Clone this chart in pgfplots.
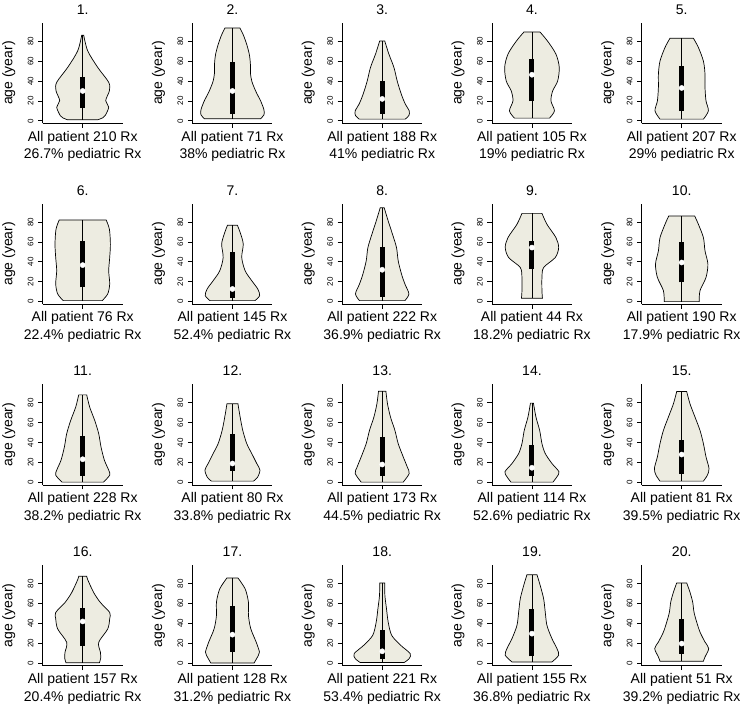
\documentclass[border=0pt]{standalone}
\usepackage{pgfplots}
\pgfplotsset{compat=1.18}
\usepackage{pgfplotstable}
\usepgfplotslibrary{fillbetween}
\usetikzlibrary{calc}
\usepackage{fontspec}
\setmainfont{Liberation Sans}
\definecolor{vfill}{RGB}{237,236,225}
\newcommand{\lab}{\fontsize{14}{16}\selectfont}

% half-width profiles (y = age, w = half width in px)
\pgfplotstableread{
y w
1 15
3 20
5.3 22.5
13.7 26
20.3 23
30.3 26.7
38.7 26
53.7 15
70.3 5
86 1
}\tA
\pgfplotstableread{
y w
2 28
6 31.5
11 31.5
19.3 28.5
29.3 23.5
39.3 19.5
47.7 18
56 18
66 17
76 14.5
86 11
93.3 7.5
}\tB
\pgfplotstableread{
y w
1.7 23
5.3 26.7
10 27
17 23
27 19
40 15
53.7 11.7
67 6.7
80.3 2.5
}\tC
\pgfplotstableread{
y w
2.7 17.5
10 22.5
20 19
30 20.7
40 25.7
53.7 27.3
67 24
80 15.7
89.3 8
}\tD
\pgfplotstableread{
y w
1.7 21.7
10 26.7
20 24.3
33.7 23.3
47 23.3
60 21.7
73.7 16.7
83 11.7
}\tE
\pgfplotstableread{
y w
1 19.5
7.7 25
17.7 27
31 26
44.3 27
57.7 27.7
72.7 26.7
82 23.5
}\tF
\pgfplotstableread{
y w
1 22.5
6 27.2
12.7 25.3
21 19.3
31 12.7
44.3 9.3
57.7 10.8
67.7 8.3
76.7 5
}\tG
\pgfplotstableread{
y w
1 22.7
7.7 26.7
17.7 22.7
27.7 19.3
41 16
54.3 14.3
67.7 10.3
81 6
94.3 2
}\tH
\pgfplotstableread{
y w
3.3 10.5
11 10
24.3 10
34.3 11.7
44.3 23.3
54.3 26.7
64.3 24
77.7 15
88.7 10
}\tI
\pgfplotstableread{
y w
0 17.5
11 18.3
24.3 24.3
37.7 26.2
51 23.3
64.3 21.7
77.7 16.7
86 13
}\tJ
\pgfplotstableread{
y w
0.3 20.8
7.3 27
12.3 26
22.3 21.7
35.7 18.3
49 16
62.3 12
75.7 7
88 4
}\tK
\pgfplotstableread{
y w
1.3 21
5 25
12.3 27.5
19 24.3
29 19.3
39 14.3
52.3 10.3
65.7 7.7
79 5.5
}\tL
\pgfplotstableread{
y w
0.3 21
9 27
15.7 25
25.7 21
39 16
52.3 12.7
65.7 8.3
79 5.3
91.7 3.7
}\tM
\pgfplotstableread{
y w
0.3 21
5.7 25
10.7 27
19 20
29 13.3
39 10
52.3 7.7
65.7 4
79.7 1.5
}\tN
\pgfplotstableread{
y w
1.3 21.7
7.3 25.7
14 27.3
25.7 24.3
39 21.7
52.3 18.3
65.7 13.3
79 8.3
91.3 5
}\tO
\pgfplotstableread{
y w
0.5 16.7
5 18
11 17.7
21 16
34.4 25
44.7 27
51 27
61 17.7
71 11
84 5
87.4 4
}\tP
\pgfplotstableread{
y w
0.3 21.7
8 26
11.3 27
21.3 23.7
34.7 18.3
48 16
61.3 16
74.7 12.7
85.7 5.5
}\tQ
\pgfplotstableread{
y w
0.7 22
4.7 27
9.7 28
18 18.5
28 9.5
41.3 6
54.7 4.3
68 2.7
80.7 2.5
}\tR
\pgfplotstableread{
y w
1.3 20
8 26.7
14.7 25
24.7 20
38 15
51.3 13.3
64.7 11.7
78 8.3
89 5
}\tS
\pgfplotstableread{
y w
2 21.7
6.3 23.3
14.7 27
21.3 23.3
31.3 18.3
41.3 15
51.3 12.3
61.3 11
71.3 8.3
80.7 5
}\tT

\pgfplotsset{violin/.style={
  scale only axis, width=80pt, height=100.5pt,
  xmin=-40, xmax=40, ymin=-2.5, ymax=98.5,
  axis x line*=bottom, axis y line*=left,
  axis line style={-, black, line width=0.65pt},
  xtick={0}, xticklabels={}, ytick={0,20,40,60,80},
  tick align=outside, major tick length=4.5pt,
  tick style={black, line width=0.65pt},
  yticklabel style={rotate=90, anchor=south, inner sep=0pt,
    font=\fontsize{8}{9}\selectfont},
  yticklabel shift=4.5pt,
  /pgf/number format/assume math mode=true,
  clip=false,
}}

\newcommand{\panel}[9]{%
\begin{axis}[violin, at={(42.7pt+149.75pt*#1, -123.3pt-180.8pt*#2)}, anchor=south west]
  \addplot[draw=none, smooth, name path=R] table[x expr=\thisrow{w}, y=y] {#6};
  \addplot[draw=none, smooth, name path=L] table[x expr=-\thisrow{w}, y=y] {#6};
  \addplot[fill=vfill, draw=black, line width=0.7pt] fill between[of=R and L, reverse=true];
  \addplot[black, line width=0.65pt] table[x expr=0, y=y] {#6};
  \addplot[black, line width=5pt] coordinates {(0,#7) (0,#9)};
  \addplot[only marks, mark=*, white, mark size=2.6pt] coordinates {(0,#8)};
  \node[anchor=base, font=\lab] at ($(axis description cs:0.5,1)+(0pt,8.5pt)$) {#3.};
  \node[rotate=90, font=\lab] at ($(axis description cs:0,0.5)+(-34pt,0pt)$) {age (year)};
  \node[anchor=base, font=\lab] at ($(axis description cs:0.5,0)+(0pt,-17.8pt)$) {All patient #4 Rx};
  \node[anchor=base, font=\lab] at ($(axis description cs:0.5,0)+(0pt,-35.3pt)$) {#5 pediatric Rx};
\end{axis}}

\begin{document}
\begin{tikzpicture}
\panel{0}{0}{1}{210}{26.7\%}{\tA}{12.7}{30}{44}
\panel{1}{0}{2}{71}{38\%}{\tB}{6.7}{30}{59.3}
\panel{2}{0}{3}{188}{41\%}{\tC}{7}{22}{40}
\panel{3}{0}{4}{105}{19\%}{\tD}{19.7}{46.3}{62}
\panel{4}{0}{5}{207}{29\%}{\tE}{9.7}{33}{55}
\panel{0}{1}{6}{76}{22.4\%}{\tF}{14.3}{36.7}{61}
\panel{1}{1}{7}{145}{52.4\%}{\tG}{3.7}{12.7}{50}
\panel{2}{1}{8}{222}{36.9\%}{\tH}{5}{32}{55}
\panel{3}{1}{9}{44}{18.2\%}{\tI}{32.7}{54.3}{61}
\panel{4}{1}{10}{190}{17.9\%}{\tJ}{19.3}{39.3}{60.3}
\panel{0}{2}{11}{228}{38.2\%}{\tK}{6.7}{23.3}{46.7}
\panel{1}{2}{12}{80}{33.8\%}{\tL}{11.7}{19}{49}
\panel{2}{2}{13}{173}{44.5\%}{\tM}{6.3}{18}{45.7}
\panel{3}{2}{14}{114}{52.6\%}{\tN}{6.3}{14.7}{38}
\panel{4}{2}{15}{81}{39.5\%}{\tO}{8.3}{28}{42.3}
\panel{0}{3}{16}{157}{20.4\%}{\tP}{17.3}{42}{55}
\panel{1}{3}{17}{128}{31.2\%}{\tQ}{11.3}{28.7}{57}
\panel{2}{3}{18}{221}{53.4\%}{\tR}{4.7}{12}{33}
\panel{3}{3}{19}{155}{36.8\%}{\tS}{7}{29.7}{54.7}
\panel{4}{3}{20}{51}{39.2\%}{\tT}{9.7}{19.7}{44.7}
\pgfresetboundingbox
\path[use as bounding box] (0,0) rectangle (740pt,-704pt);
\end{tikzpicture}
\end{document}
